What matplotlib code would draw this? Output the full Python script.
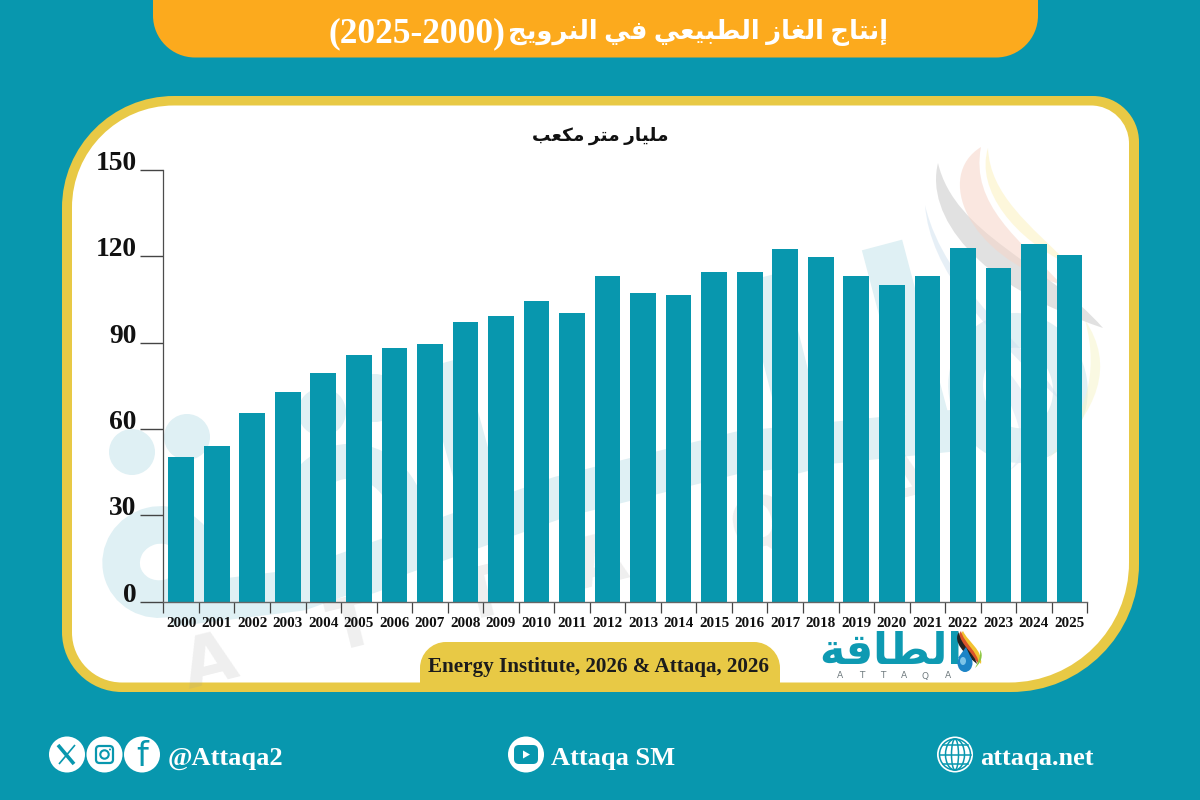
import numpy as np
import matplotlib
matplotlib.use("Agg")
import matplotlib.pyplot as plt
from matplotlib.path import Path
from matplotlib.patches import PathPatch, Circle, Ellipse, FancyBboxPatch, Polygon

# Annual natural gas output, billion cubic metres
years = list(range(2000, 2026))
production = [50.2, 54.1, 65.6, 72.9, 79.3, 85.7, 88.1, 89.4, 97.2, 99.4, 104.5, 100.3, 113.2,
              107.1, 106.4, 114.7, 114.6, 122.4, 119.9, 113.2, 110.0, 113.2, 122.8, 116.0, 124.3, 120.6]
y_ticks = [0, 30, 60, 90, 120, 150]

title_ar = "إنتاج الغاز الطبيعي في النرويج"
title_years = "(2025-2000)"
unit_ar = "مليار متر مكعب"
brand_ar = "الطاقة"
source_text = "Energy Institute, 2026 & Attaqa, 2026"
handle_social = "@Attaqa2"
handle_video = "Attaqa SM"
handle_site = "attaqa.net"

TEAL = "#0897AE"
ORANGE = "#FCAA1D"
GOLD = "#E8C945"
PALE = "#DFF0F4"
SERIF = ["Liberation Serif", "DejaVu Sans"]

# Contextual glyph forms: isolated, final, initial, medial
FORMS = {
    "ا": (0xFE8D, 0xFE8E), "إ": (0xFE87, 0xFE88), "ة": (0xFE93, 0xFE94),
    "ر": (0xFEAD, 0xFEAE), "ز": (0xFEAF, 0xFEB0), "و": (0xFEED, 0xFEEE),
    "ب": (0xFE8F, 0xFE90, 0xFE91, 0xFE92), "ت": (0xFE95, 0xFE96, 0xFE97, 0xFE98),
    "ج": (0xFE9D, 0xFE9E, 0xFE9F, 0xFEA0), "ط": (0xFEC1, 0xFEC2, 0xFEC3, 0xFEC4),
    "ع": (0xFEC9, 0xFECA, 0xFECB, 0xFECC), "غ": (0xFECD, 0xFECE, 0xFECF, 0xFED0),
    "ف": (0xFED1, 0xFED2, 0xFED3, 0xFED4), "ق": (0xFED5, 0xFED6, 0xFED7, 0xFED8),
    "ك": (0xFED9, 0xFEDA, 0xFEDB, 0xFEDC), "ل": (0xFEDD, 0xFEDE, 0xFEDF, 0xFEE0),
    "م": (0xFEE1, 0xFEE2, 0xFEE3, 0xFEE4), "ن": (0xFEE5, 0xFEE6, 0xFEE7, 0xFEE8),
    "ي": (0xFEF1, 0xFEF2, 0xFEF3, 0xFEF4),
}


def shape_arabic(text):
    """Join Arabic letters and return them in display order."""
    glyphs = []
    for i, ch in enumerate(text):
        forms = FORMS.get(ch)
        if forms is None:
            glyphs.append(ch)
            continue
        prev = text[i - 1] if i else ""
        nxt = text[i + 1] if i + 1 < len(text) else ""
        joins_prev = prev in FORMS and len(FORMS[prev]) == 4
        joins_next = nxt in FORMS and len(forms) == 4
        if joins_prev and joins_next:
            code = forms[3]
        elif joins_next:
            code = forms[2]
        elif joins_prev:
            code = forms[1]
        else:
            code = forms[0]
        glyphs.append(chr(code))
    return "".join(reversed(glyphs))


def rounded_box(x0, y0, x1, y1, tl, tr, br, bl):
    """Closed outline of a box whose four corners have their own radii."""
    k = 0.5523
    verts = [(x0 + tl, y0), (x1 - tr, y0),
             (x1 - tr + k * tr, y0), (x1, y0 + tr - k * tr), (x1, y0 + tr),
             (x1, y1 - br),
             (x1, y1 - br + k * br), (x1 - br + k * br, y1), (x1 - br, y1),
             (x0 + bl, y1),
             (x0 + bl - k * bl, y1), (x0, y1 - bl + k * bl), (x0, y1 - bl),
             (x0, y0 + tl),
             (x0, y0 + tl - k * tl), (x0 + tl - k * tl, y0), (x0 + tl, y0),
             (x0 + tl, y0)]
    codes = [Path.MOVETO, Path.LINETO, Path.CURVE4, Path.CURVE4, Path.CURVE4, Path.LINETO,
             Path.CURVE4, Path.CURVE4, Path.CURVE4, Path.LINETO, Path.CURVE4, Path.CURVE4,
             Path.CURVE4, Path.LINETO, Path.CURVE4, Path.CURVE4, Path.CURVE4, Path.CLOSEPOLY]
    return Path(verts, codes)


def blade(points):
    """Crescent made of two cubic curves: tip, c, c, tip, c, c back to start."""
    codes = [Path.MOVETO] + [Path.CURVE4] * 6
    return Path(points, codes)


fig = plt.figure(figsize=(12, 8), dpi=100, facecolor=TEAL)

# Full-page layer in pixel units for the frame and branding
page = fig.add_axes([0, 0, 1, 1], zorder=0)
page.set_xlim(0, 1200)
page.set_ylim(800, 0)
page.axis("off")

# Title banner
page.add_patch(PathPatch(rounded_box(153, -40, 1038, 57.5, 0, 0, 42, 42), fc=ORANGE, ec="none"))
page.text(505, 33.5, title_years, color="white", fontsize=25.5, fontweight="bold",
          family=SERIF, ha="right", va="center")
page.text(888, 33, shape_arabic(title_ar), color="white", fontsize=18.6, fontweight="bold",
          family=SERIF, ha="right", va="center")

# Chart panel
outer = PathPatch(rounded_box(62, 96, 1139, 692, 112, 46, 128, 60), fc=GOLD, ec="none", zorder=1)
page.add_patch(outer)
inner = PathPatch(rounded_box(72, 105.5, 1129, 682.5, 102, 38, 120, 50), fc="white", ec="none", zorder=1.1)
page.add_patch(inner)

# Faint calligraphic mark behind the bars: dots, loops and tilted strokes
for cx, cy, r in [(132, 452, 23), (187, 437, 23), (322, 412, 24), (375, 398, 24)]:
    page.add_patch(Circle((cx, cy), r, fc=PALE, ec="none", zorder=1.2))
for cx, cy, w, h, stroke in [(160, 562, 78, 74, 27), (352, 520, 112, 118, 25), (1018, 388, 104, 116, 25)]:
    page.add_patch(Ellipse((cx, cy), w, h, angle=-14, fc="none", ec=PALE, lw=stroke, zorder=1.2))
for xs, ys, stroke in [([170, 300, 560, 740, 960], [606, 590, 497, 452, 430], 30),
                       ([443, 490], [363, 533], 30),
                       ([763, 812], [277, 470], 30),
                       ([882, 935], [245, 445], 30)]:
    page.plot(xs, ys, color=PALE, lw=stroke, solid_capstyle="butt", zorder=1.2)

for letter, (lx, ly) in zip("ATTAQA", [(210, 664), (353, 627), (483, 597), (600, 565), (760, 525), (905, 487)]):
    t = page.text(lx, ly, letter, color="#9A9A9A", alpha=0.16, fontsize=50, fontweight="bold",
                  family="DejaVu Sans", ha="center", va="center", rotation=14,
                  rotation_mode="anchor", zorder=1.25)
    t.set_clip_path(outer)

wm_blades = [
    ("#C9C9C9", 0.55, [(938, 163), (925, 215), (975, 285), (1103, 328), (1045, 262), (955, 235), (938, 163)]),
    ("#F6D5C8", 0.55, [(981, 147), (935, 175), (965, 255), (1062, 285), (1020, 240), (970, 205), (981, 147)]),
    ("#FCF0B8", 0.50, [(988, 148), (975, 190), (1015, 240), (1070, 265), (1030, 225), (990, 195), (988, 148)]),
    ("#CFE0EF", 0.50, [(925, 205), (930, 270), (985, 330), (1060, 400), (1030, 345), (945, 290), (925, 205)]),
    ("#F7F4C6", 0.50, [(1085, 320), (1115, 365), (1100, 410), (1045, 462), (1085, 420), (1100, 375), (1085, 320)]),
    ("#DCE9F4", 0.60, [(985, 350), (1030, 385), (1055, 440), (1010, 470), (1040, 440), (1000, 390), (985, 350)]),
]
for colour, alpha, pts in wm_blades:
    page.add_patch(PathPatch(blade(pts), fc=colour, ec="none", alpha=alpha, zorder=1.22))

# Source tab
page.add_patch(PathPatch(rounded_box(420, 642, 780, 684, 26, 26, 0, 0), fc=GOLD, ec="none", zorder=1.4))
page.text(599, 667, source_text, color="#1c1c1c", fontsize=15.2, fontweight="bold", family=SERIF,
          ha="center", va="center", zorder=1.5)

# Unit label
page.text(600.5, 135.5, shape_arabic(unit_ar), color="#111111", fontsize=13.3, fontweight="bold",
          family=SERIF, ha="center", va="center", zorder=1.5)

# Brand logo
page.text(891, 652, shape_arabic(brand_ar), color="#0E9AB2", fontsize=31, fontweight="bold",
          family="DejaVu Sans", ha="center", va="center", zorder=1.5)
for letter, lx in zip("ATTAQA", [840, 862, 883, 904, 925, 948]):
    page.text(lx, 676, letter, color="#6f7a7e", fontsize=6.5, family="DejaVu Sans",
              ha="center", va="center", zorder=1.5)
logo_blades = [
    ("#F2C230", [(963, 631), (955, 640), (970, 650), (981, 664), (983, 650), (968, 642), (963, 631)]),
    ("#D9532B", [(961, 631), (954, 640), (968, 652), (979, 664), (978, 652), (964, 643), (961, 631)]),
    ("#222222", [(959, 632), (952, 642), (965, 654), (977, 664), (975, 654), (960, 645), (959, 632)]),
    ("#8CC63F", [(975, 668), (984, 660), (982, 652), (980, 650), (981, 658), (977, 664), (975, 668)]),
]
for colour, pts in logo_blades:
    page.add_patch(PathPatch(blade(pts), fc=colour, ec="none", zorder=1.5))
page.add_patch(Ellipse((965, 663), 15, 18, fc="#1C84C6", ec="none", zorder=1.55))
page.add_patch(Polygon([(958, 658), (966, 647), (972, 660)], closed=True, fc="#1C84C6", ec="none", zorder=1.55))
page.add_patch(Ellipse((963, 661), 6, 8, fc="#7CC4E8", ec="none", zorder=1.6))

# Social row
for cx in (67, 104.5, 142, 526, 955):
    page.add_patch(Circle((cx, 754.5), 18, fc="white", ec="none"))
# X mark
page.plot([58, 74], [745, 764], color=TEAL, lw=2.6, solid_capstyle="butt")
page.plot([75, 59], [745, 764], color=TEAL, lw=1.2, solid_capstyle="butt")
# Camera mark
page.add_patch(FancyBboxPatch((96, 746), 17, 17, boxstyle="round,pad=0,rounding_size=3.5",
                              fc="none", ec=TEAL, lw=1.6))
page.add_patch(Circle((104.5, 754.5), 4.2, fc="none", ec=TEAL, lw=1.5))
page.add_patch(Circle((110, 749.5), 1, fc=TEAL, ec="none"))
# Letter f
page.text(142, 756, "f", color=TEAL, fontsize=24, family="DejaVu Sans", ha="center", va="center")
# Play button
page.add_patch(FancyBboxPatch((514, 745), 24, 19, boxstyle="round,pad=0,rounding_size=5", fc=TEAL, ec="none"))
page.add_patch(Polygon([(523, 750.5), (523, 758.5), (530, 754.5)], closed=True, fc="white", ec="none"))
# Globe
for w in (31, 19, 7):
    page.add_patch(Ellipse((955, 754.5), w, 31, fc="none", ec=TEAL, lw=1.1))
for gy, half in ((745, 12.5), (754.5, 15.5), (764, 12.5)):
    page.plot([955 - half, 955 + half], [gy, gy], color=TEAL, lw=1.1)

for tx, label in ((168, handle_social), (551, handle_video), (980, handle_site)):
    page.text(tx, 759, label, color="white", fontsize=19, fontweight="bold", family=SERIF,
              ha="left", va="center")

# Bar chart
left, right, top, base = 163.4, 1087.3, 170.0, 601.7
ax = fig.add_axes([left / 1200, 1 - base / 800, (right - left) / 1200, (base - top) / 800], zorder=2)
ax.patch.set_alpha(0)
positions = np.arange(len(years))
ax.bar(positions, production, width=0.723, color=TEAL, linewidth=0)
ax.set_xlim(-0.5, len(years) - 0.5)
ax.set_ylim(y_ticks[0], y_ticks[-1])

for side in ("top", "right"):
    ax.spines[side].set_visible(False)
ax.spines["left"].set_color("#4d4d4d")
ax.spines["left"].set_linewidth(0.9)
ax.spines["bottom"].set_color("#666666")
ax.spines["bottom"].set_linewidth(1.0)
ax.spines["bottom"].set_zorder(5)

# Year labels sit at bar centres; tick marks fall between the bars
ax.set_xticks(positions)
ax.set_xticklabels([str(y) for y in years], fontsize=10.9, fontweight="bold", family=SERIF, color="#111111")
ax.set_xticks(np.r_[-0.5, positions + 0.5], minor=True)
ax.tick_params(axis="x", which="major", length=0, pad=11)
ax.tick_params(axis="x", which="minor", length=8, width=0.9, color="#444444")

# Values rest on top of long left ticks
ax.set_yticks(y_ticks)
ax.set_yticklabels([str(v) for v in y_ticks], fontsize=19.8, fontweight="bold", family=SERIF, color="#111111")
ax.tick_params(axis="y", length=16.8, width=1.0, color="#444444", pad=2.6)
for tick_label in ax.get_yticklabels():
    tick_label.set_verticalalignment("baseline")

fig.savefig("out.png", dpi=100, facecolor=TEAL)
